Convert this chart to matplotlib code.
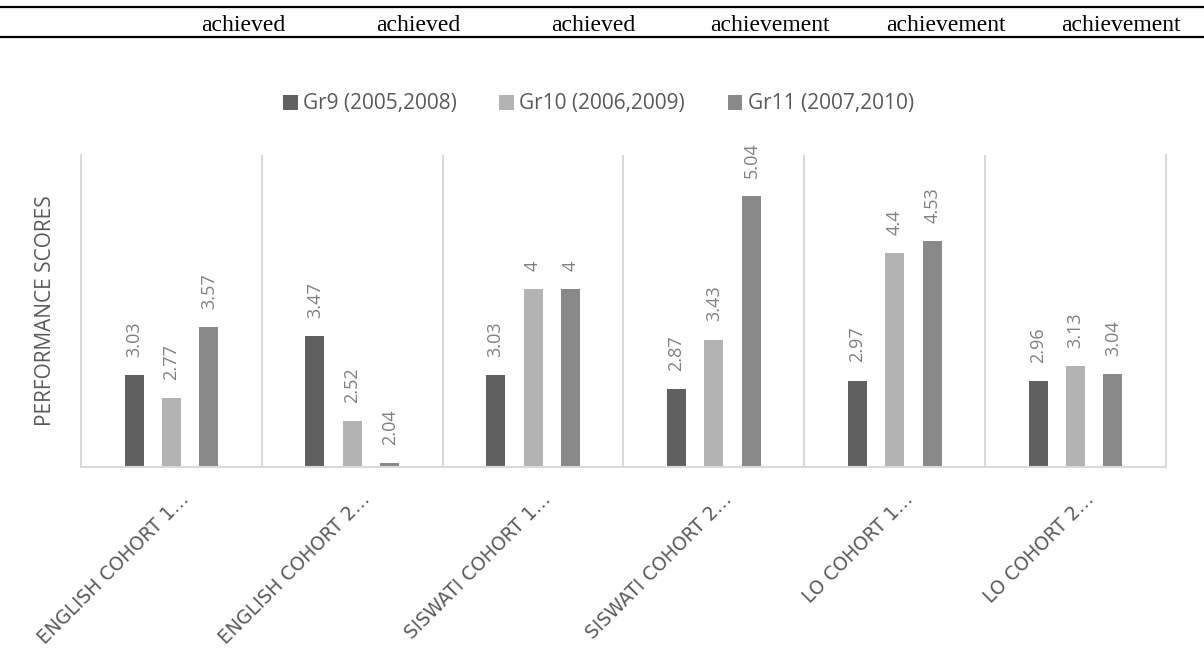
import numpy as np
import matplotlib.pyplot as plt
from matplotlib.lines import Line2D
from matplotlib.transforms import ScaledTranslation

# --- DADOS ---
categorias = ["ENGLISH COHORT 1…", "ENGLISH COHORT 2…", "SISWATI COHORT 1…",
              "SISWATI COHORT 2…", "LO COHORT 1…", "LO COHORT 2…"]
series = ["Gr9 (2005,2008)", "Gr10 (2006,2009)", "Gr11 (2007,2010)"]
gr9 = [3.03, 3.47, 3.03, 2.87, 2.97, 2.96]
gr10 = [2.77, 2.52, 4, 3.43, 4.4, 3.13]
gr11 = [3.57, 2.04, 4, 5.04, 4.53, 3.04]
rotulos_tabela = ["achieved", "achieved", "achieved",
                  "achievement", "achievement", "achievement"]

cores = ["#606060", "#b3b3b3", "#898989"]
cinza_texto = "#595959"
cinza_grade = "#d9d9d9"

plt.rcParams['font.family'] = ['Open Sans', 'DejaVu Sans']

fig = plt.figure(figsize=(12.04, 6.55), dpi=100)
ax = fig.add_axes([0.0673, 0.287, 0.9011, 0.4764])

# --- BARRAS ---
x = np.arange(len(categorias))
largura = 0.105
passo = 0.207
for j, (valores, nome) in enumerate(zip([gr9, gr10, gr11], series)):
    pos = x + (j - 1) * passo
    ax.bar(pos, np.array(valores) - 2, bottom=2, width=largura, color=cores[j], label=nome)
    for xi, v in zip(pos, valores):
        ax.annotate(f"{v:g}", (xi, v), xytext=(0, 13), textcoords="offset points",
                    rotation=90, ha="center", va="bottom", fontsize=13, color="#7f7f7f")

# --- EIXOS ---
ax.set_xlim(-0.5, len(categorias) - 0.5)
ax.set_ylim(2, 5.5)
ax.set_yticks([])
for xs in np.arange(0.5, len(categorias) - 0.5):
    ax.axvline(xs, color=cinza_grade, linewidth=1.5, zorder=0)
ax.spines['top'].set_visible(False)
for lado in ['left', 'right', 'bottom']:
    ax.spines[lado].set_color(cinza_grade)
    ax.spines[lado].set_linewidth(1.5)

ax.set_xticks(x)
ax.set_xticklabels(categorias, rotation=45, ha="right", va="center",
                   rotation_mode="anchor", fontsize=13.5, color=cinza_texto,
                   family=["DejaVu Sans"])
ax.tick_params(axis='x', length=0, pad=0)
desloc = ScaledTranslation(0.15, -0.29, fig.dpi_scale_trans)
for rot in ax.get_xticklabels():
    rot.set_transform(rot.get_transform() + desloc)

ax.set_ylabel("PERFORMANCE SCORES", fontsize=15, color=cinza_texto)
ax.yaxis.set_label_coords(56 / 1204, 1 - 311 / 655, transform=fig.transFigure)

# --- LEGENDA ---
fig.legend(loc="center", bbox_to_anchor=(0.497, 1 - 104 / 655), ncol=3, frameon=False,
           fontsize=15, labelcolor=cinza_texto, handlelength=0.7, handleheight=0.7,
           handletextpad=0.25, columnspacing=2.05)

# --- LINHA DA TABELA NO TOPO ---
fig.add_artist(Line2D([0, 1], [1 - 7 / 655, 1 - 7 / 655], color="black", linewidth=1.6))
fig.add_artist(Line2D([0, 1], [1 - 37 / 655, 1 - 37 / 655], color="black", linewidth=1.6))
centros = [243, 418, 593, 770, 946, 1121]
for cx, txt in zip(centros, rotulos_tabela):
    fig.text(cx / 1204, 1 - 31 / 655, txt, ha="center", va="baseline", fontsize=17,
             family="Liberation Serif", color="black")

plt.savefig("out.png", dpi=100)
